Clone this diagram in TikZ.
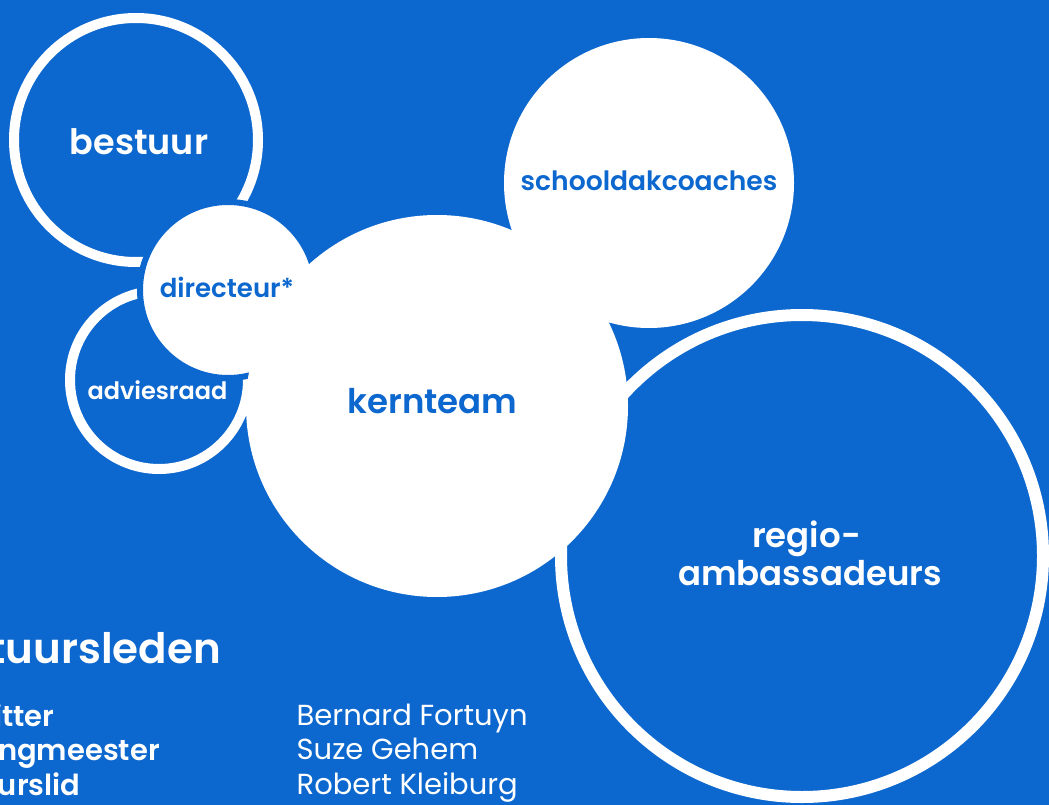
\documentclass[tikz,border=0pt]{standalone}
\usepackage{fontspec}
\setmainfont{Poppins}
\IfFontExistsTF{Poppins SemiBold}{\newfontfamily\semib{Poppins SemiBold}}{\newfontfamily\semib{Poppins}[UprightFont=*-Bold]}
\definecolor{bg}{RGB}{12,103,206}
\tikzset{
  cring/.style={circle,inner sep=0pt,draw=white},
  cdisc/.style={circle,inner sep=0pt,fill=white},
  wtxt/.style={inner sep=0pt,text=white,font=\semib\fontsize{#1}{#1}\selectfont},
  btxt/.style={inner sep=0pt,text=bg,font=\semib\fontsize{#1}{#1}\selectfont},
  roletxt/.style={inner sep=0pt,text=white,font=\semib\fontsize{29}{34}\selectfont},
  nametxt/.style={inner sep=0pt,text=white,font=\fontsize{29}{34}\selectfont}
}
\begin{document}
\begin{tikzpicture}[x=1pt,y=-1pt]
\useasboundingbox (0,0) rectangle (1049,805);
\clip (0,0) rectangle (1049,805);
\fill[bg] (0,0) rectangle (1049,805);
% rings
\node[cring,line width=12pt,minimum size=482pt] (regio) at (802,556) {};
\node[cring,line width=10pt,minimum size=244pt] (bestuur) at (136,140) {};
\node[cring,line width=10pt,minimum size=178pt] (advies) at (159,380) {};
% white discs
\node[cdisc,minimum size=290pt] (school) at (649,183) {};
\node[cdisc,draw=bg,line width=6pt,minimum size=176pt] (dir) at (228,290) {};
\node[cdisc,minimum size=382pt] (kern) at (437,406) {};
% labels
\node[wtxt=35,anchor=base] (tbestuur) at (139,155) {bestuur};
\node[btxt=26,anchor=base] (tdir) at (227,297) {directeur*};
\node[wtxt=24,anchor=base] (tadvies) at (157.5,399) {adviesraad};
\node[btxt=34,anchor=base] (tkern) at (432.5,413) {kernteam};
\node[btxt=26.6,anchor=base] (tschool) at (649,190.7) {schooldakcoaches};
\node[wtxt=34,anchor=base] (tregio1) at (806.5,547) {regio-};
\node[wtxt=34,anchor=base] (tregio2) at (810,585) {ambassadeurs};
% member list
\node[wtxt=42,anchor=base east] (title) at (221,663) {bestuursleden};
\node[roletxt,anchor=base east] (penn) at (160,760) {penningmeester};
\path (penn.base west) ++(0,-34) node[roletxt,anchor=base west] (voorz) {voorzitter};
\path (penn.base west) ++(0,35) node[roletxt,anchor=base west] (lid) {bestuurslid};
\node[nametxt,anchor=base west] (n1) at (296.5,725) {Bernard Fortuyn};
\node[nametxt,anchor=base west] (n2) at (296.5,759.5) {Suze Gehem};
\node[nametxt,anchor=base west] (n3) at (296.5,794) {Robert Kleiburg};
\end{tikzpicture}
\end{document}
